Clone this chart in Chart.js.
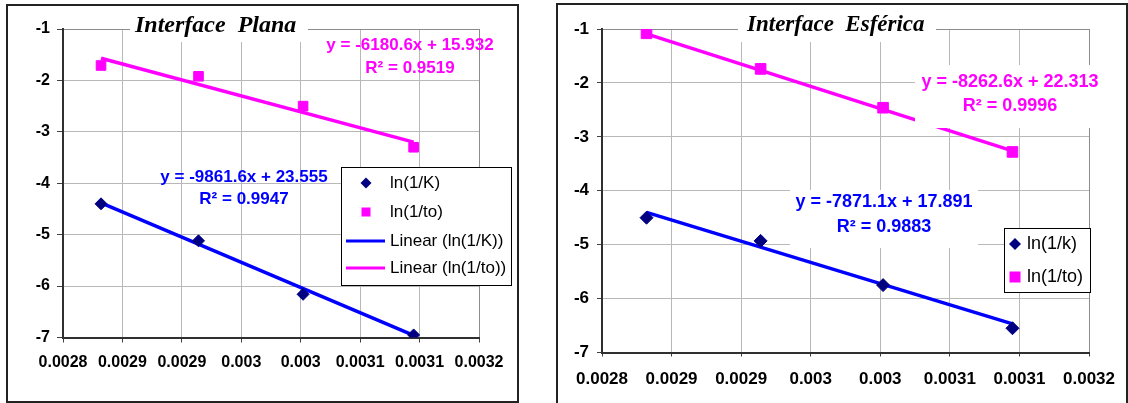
<!DOCTYPE html>
<html>
<head>
<meta charset="utf-8">
<script src="https://cdn.jsdelivr.net/npm/chart.js@4.4.1/dist/chart.umd.min.js"></script>
<style>
body { margin: 0; background: #fff; width: 1128px; height: 403px; overflow: hidden; position: relative; }
canvas { position: absolute; top: 0; }
#plana { left: 0; }
#esferica { left: 550px; }
</style>
</head>
<body>
<canvas id="plana" width="525" height="403"></canvas>
<canvas id="esferica" width="578" height="403"></canvas>
<script>
// 1/T (K^-1), same temperatures for both interfaces
const invTemp = [0.002832, 0.002914, 0.003002, 0.003095];
const fitRange = [0.002832, 0.003095];

// Interface Plana
const planaLnK = [-4.40, -5.12, -6.16, -6.95];
const planaLnTo = [-1.71, -1.92, -2.50, -3.30];
const planaFitK = [-4.38, -6.96];
const planaFitTo = [-1.57, -3.20];

// Interface Esférica
const esfLnK = [-4.50, -4.93, -5.75, -6.55];
const esfLnTo = [-1.08, -1.74, -2.46, -3.28];
const esfFitK = [-4.40, -6.47];
const esfFitTo = [-1.09, -3.26];

const xTickValues = [0.0028, 0.00285, 0.0029, 0.00295, 0.003, 0.00305, 0.0031, 0.00315];
const xTickLabels = ['0.0028', '0.0029', '0.0029', '0.003', '0.003', '0.0031', '0.0031', '0.0032'];
const yMin = -7, yMax = -1;

const NAVY = '#000080', MAGENTA = '#ff00ff', BLUE = '#0000ff';
const SANS = '"Liberation Sans", Arial, sans-serif';
const SERIF = '"Liberation Serif", "Times New Roman", serif';

function pts(xs, ys) { return xs.map((x, i) => ({ x: x, y: ys[i] })); }

function diamond(c, x, y, r) {
  c.beginPath();
  c.moveTo(x, y - r); c.lineTo(x + r, y); c.lineTo(x, y + r); c.lineTo(x - r, y);
  c.closePath(); c.fill();
}

// title box, trendline labels, legend and outer frame, Excel style
function decor(cfg) {
  return {
    id: 'decor',
    afterDatasetsDraw(chart) {
      const c = chart.ctx;
      c.save();
      const t = cfg.title;
      c.fillStyle = '#fff';
      c.fillRect(t.box[0], 6, t.box[1] - t.box[0], 36);
      c.fillStyle = '#000';
      c.font = 'italic bold ' + t.size + 'px ' + SERIF;
      c.textAlign = 'left'; c.textBaseline = 'alphabetic';
      c.fillText(t.text, t.x, t.y);

      cfg.labels.forEach(l => {
        if (l.box) { c.fillStyle = '#fff'; c.fillRect(l.box[0], l.box[1], l.box[2], l.box[3]); }
        c.fillStyle = l.color;
        c.font = 'bold ' + l.size + 'px ' + SANS;
        c.textAlign = 'center'; c.textBaseline = 'middle';
        l.lines.forEach((s, i) => c.fillText(s, l.x, l.y + i * l.gap));
      });

      const lg = cfg.legend;
      c.fillStyle = '#fff'; c.fillRect(lg.x, lg.y, lg.w, lg.h);
      c.strokeStyle = '#000'; c.lineWidth = 1;
      c.strokeRect(lg.x + 0.5, lg.y + 0.5, lg.w, lg.h);
      c.font = lg.size + 'px ' + SANS;
      c.textAlign = 'left'; c.textBaseline = 'middle';
      chart.data.datasets.slice(0, lg.rows.length).forEach((ds, i) => {
        const y = lg.rows[i];
        if (ds.showLine) {
          c.strokeStyle = ds.borderColor; c.lineWidth = 3;
          c.beginPath(); c.moveTo(lg.lineX[0], y); c.lineTo(lg.lineX[1], y); c.stroke();
        } else if (ds.pointStyle === 'rectRot') {
          c.fillStyle = ds.backgroundColor; diamond(c, lg.markX, y, lg.diam);
        } else {
          c.fillStyle = ds.backgroundColor;
          c.fillRect(lg.markX - lg.sq / 2, y - lg.sq / 2, lg.sq, lg.sq);
        }
        c.fillStyle = '#000';
        c.fillText(ds.label, lg.textX, y);
      });

      c.strokeStyle = '#222'; c.lineWidth = 2;
      c.strokeRect(cfg.frame[0], cfg.frame[1], cfg.frame[2], cfg.frame[3]);
      c.restore();
    }
  };
}

function scales(g) {
  return {
    x: {
      type: 'linear',
      min: xTickValues[0], max: xTickValues[xTickValues.length - 1],
      afterBuildTicks: s => { s.ticks = xTickValues.map(v => ({ value: v })); },
      afterFit: s => { s.height = g.xHeight; },
      ticks: {
        callback: (v, i) => xTickLabels[i],
        font: { size: g.tickSize, weight: 'bold', family: SANS },
        color: '#000', padding: g.xPad, maxRotation: 0, autoSkip: false
      },
      grid: {
        color: c => c.index === xTickValues.length - 1 ? '#8c8c8c' : '#b8b8b8',
        tickColor: '#404040', tickLength: g.xTick
      },
      border: { color: '#303030', width: 2 }
    },
    y: {
      min: yMin, max: yMax,
      afterFit: s => { s.width = g.yWidth; },
      ticks: {
        stepSize: 1,
        font: { size: g.tickSize, weight: 'bold', family: SANS },
        color: '#000', padding: g.yPad
      },
      grid: {
        color: c => c.tick && c.tick.value === yMax ? '#8c8c8c' : '#b8b8b8',
        tickColor: '#404040', tickLength: g.yTick
      },
      border: { color: '#303030', width: 2 }
    }
  };
}

function datasets(labels, lnK, lnTo, fitK, fitTo, r) {
  return [
    { label: labels[0], data: pts(invTemp, lnK), pointStyle: 'rectRot', pointRadius: r.k,
      backgroundColor: NAVY, borderColor: NAVY, borderWidth: 1, showLine: false },
    { label: labels[1], data: pts(invTemp, lnTo), pointStyle: 'rect', pointRadius: r.to,
      backgroundColor: MAGENTA, borderColor: MAGENTA, borderWidth: 1, showLine: false },
    { label: labels[2], data: pts(fitRange, fitK), showLine: true,
      borderColor: BLUE, borderWidth: 3.5, pointRadius: 0 },
    { label: labels[3], data: pts(fitRange, fitTo), showLine: true,
      borderColor: MAGENTA, borderWidth: 3.5, pointRadius: 0 }
  ];
}

function build(id, g, data, cfg) {
  return new Chart(document.getElementById(id), {
    type: 'scatter',
    data: { datasets: data },
    options: {
      responsive: false, animation: false, devicePixelRatio: 1, events: [],
      layout: { padding: { top: g.top, right: g.right, bottom: 0, left: 0 } },
      plugins: { legend: { display: false }, title: { display: false }, tooltip: { enabled: false } },
      scales: scales(g)
    },
    plugins: [decor(cfg)]
  });
}

build('plana',
  { yWidth: 63, xHeight: 65.5, top: 29, right: 46, tickSize: 16, xTick: 5, yTick: 6, xPad: 10, yPad: 7 },
  datasets(['ln(1/K)', 'ln(1/to)', 'Linear (ln(1/K))', 'Linear (ln(1/to))'],
    planaLnK, planaLnTo, planaFitK, planaFitTo, { k: 6, to: 6.8 }),
  {
    title: { text: 'Interface  Plana', x: 135, y: 32, size: 24, box: [130, 308] },
    labels: [
      { lines: ['y = -6180.6x + 15.932', 'R² = 0.9519'], x: 410, y: 45, gap: 23, size: 17, color: MAGENTA },
      { lines: ['y = -9861.6x + 23.555', 'R² = 0.9947'], x: 244, y: 177, gap: 22, size: 17, color: BLUE }
    ],
    legend: { x: 341, y: 167, w: 170, h: 118, rows: [183, 212, 241, 268], markX: 366,
      lineX: [346, 385], textX: 390, size: 17, diam: 5.5, sq: 9 },
    frame: [7, 5, 511, 397]
  });

build('esferica',
  { yWidth: 52, xHeight: 50.5, top: 29, right: 37, tickSize: 17, xTick: 4, yTick: 5, xPad: 13, yPad: 8 },
  datasets(['ln(1/k)', 'ln(1/to)', 'Linear (ln(1/k))', 'Linear (ln(1/to))'],
    esfLnK, esfLnTo, esfFitK, esfFitTo, { k: 6.5, to: 7.5 }),
  {
    title: { text: 'Interface  Esférica', x: 197, y: 31, size: 23, box: [188, 386] },
    labels: [
      { lines: ['y = -8262.6x + 22.313', 'R² = 0.9996'], x: 460, y: 82, gap: 24, size: 18, color: MAGENTA,
        box: [365, 65, 190, 63] },
      { lines: ['y = -7871.1x + 17.891', 'R² = 0.9883'], x: 334, y: 202, gap: 25, size: 18, color: BLUE,
        box: [240, 190, 188, 58] }
    ],
    legend: { x: 454, y: 228, w: 86, h: 64, rows: [244, 277], markX: 465,
      lineX: [0, 0], textX: 477, size: 18, diam: 6, sq: 11 },
    frame: [7, 4, 570, 420]
  });
</script>
</body>
</html>
